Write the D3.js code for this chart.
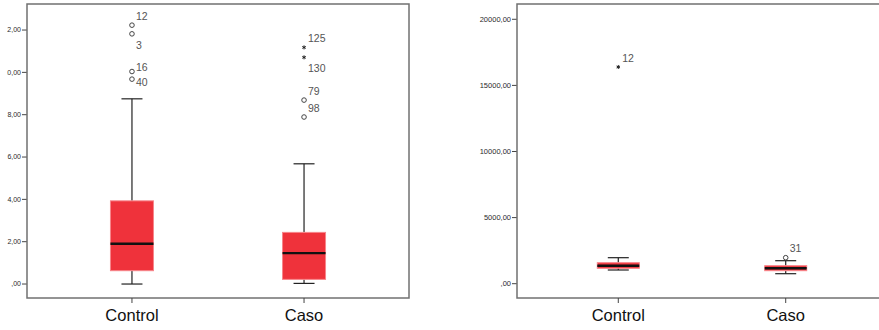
<!DOCTYPE html>
<html>
<head>
<meta charset="utf-8">
<script src="https://cdn.jsdelivr.net/npm/d3@7"></script>
<style>
  html, body { margin: 0; padding: 0; background: #fff; }
  svg { display: block; font-family: "Liberation Sans", Arial, sans-serif; }
</style>
</head>
<body>
<svg id="chart" width="879" height="330"></svg>
<script>
// Groups shown on both panels
const categories = ["Control", "Caso"];

// Left panel: five-number summaries per group
const leftMin    = [0.00, 0.03];
const leftQ1     = [0.63, 0.22];
const leftMedian = [1.90, 1.46];
const leftQ3     = [3.93, 2.44];
const leftMax    = [8.75, 5.68];
const leftTicks  = [0, 2, 4, 6, 8, 10, 12];

// Left panel: outlying cases (circle = outlier, star = extreme)
const leftOutCategory = ["Control", "Control", "Control", "Control", "Caso", "Caso", "Caso", "Caso"];
const leftOutValue    = [12.23, 11.82, 10.04, 9.68, 11.18, 10.71, 8.69, 7.89];
const leftOutLabel    = ["12", "3", "16", "40", "125", "130", "79", "98"];
const leftOutSymbol   = ["circle", "circle", "circle", "circle", "star", "star", "circle", "circle"];

// Right panel: five-number summaries per group
const rightMin    = [1036, 756];
const rightQ1     = [1165, 983];
const rightMedian = [1362, 1165];
const rightQ3     = [1589, 1362];
const rightMax    = [1967, 1740];
const rightTicks  = [0, 5000, 10000, 15000, 20000];

// Right panel: outlying cases
const rightOutCategory = ["Control", "Caso"];
const rightOutValue    = [16392, 1967];
const rightOutLabel    = ["12", "31"];
const rightOutSymbol   = ["star", "circle"];

const svg = d3.select("#chart");
const fmt = v => {
  const s = d3.format(".2f")(v).replace(".", ",");
  return s.startsWith("0,") ? s.slice(1) : s;
};

const BOX_FILL = "#ef323b";
const BOX_EDGE = "#f7858a";
const FRAME = "#707070";

function drawPanel(cfg) {
  const g = svg.append("g");
  const x = d3.scalePoint().domain(categories).range([cfg.left, cfg.right]).padding(cfg.pad);
  const y = d3.scaleLinear().domain(cfg.domain).range([cfg.bottom, cfg.top]);

  // clip for tick labels (labels running past the panel edge are cut)
  const clipId = "clip" + cfg.id;
  svg.append("clipPath").attr("id", clipId)
    .append("rect").attr("x", cfg.labelClip).attr("y", 0).attr("width", 879).attr("height", 330);

  // y axis ticks and labels
  const yAxis = g.append("g").attr("clip-path", `url(#${clipId})`);
  yAxis.selectAll("line.tick").data(cfg.ticks).join("line")
    .attr("x1", cfg.left - cfg.tickLen).attr("x2", cfg.left)
    .attr("y1", d => y(d)).attr("y2", d => y(d))
    .attr("stroke", "#444").attr("stroke-width", 1);
  yAxis.selectAll("text").data(cfg.ticks).join("text")
    .attr("x", cfg.left - cfg.tickLen - 1)
    .attr("y", d => y(d))
    .attr("dy", "0.35em")
    .attr("text-anchor", "end")
    .attr("font-size", cfg.tickFont)
    .attr("fill", "#2a2a2a")
    .text(fmt);

  // frame
  g.append("rect")
    .attr("x", cfg.left).attr("y", cfg.top)
    .attr("width", cfg.right - cfg.left).attr("height", cfg.bottom - cfg.top)
    .attr("fill", "none").attr("stroke", FRAME).attr("stroke-width", 1.5);

  // category ticks and labels
  g.selectAll("line.cat").data(categories).join("line")
    .attr("x1", d => x(d)).attr("x2", d => x(d))
    .attr("y1", cfg.bottom).attr("y2", cfg.bottom + 5)
    .attr("stroke", "#444").attr("stroke-width", 1);
  g.selectAll("text.cat").data(categories).join("text")
    .attr("x", d => x(d)).attr("y", cfg.bottom + 17)
    .attr("dy", "0.35em")
    .attr("text-anchor", "middle")
    .attr("font-size", 16.5)
    .attr("fill", "#111")
    .text(d => d);

  // boxes
  const stats = categories.map((c, i) => ({
    c, min: cfg.min[i], q1: cfg.q1[i], med: cfg.med[i], q3: cfg.q3[i], max: cfg.max[i]
  }));
  const bw = cfg.boxW, cw = 21;
  const box = g.selectAll("g.box").data(stats).join("g");
  box.append("line")
    .attr("x1", d => x(d.c)).attr("x2", d => x(d.c))
    .attr("y1", d => y(d.max)).attr("y2", d => y(d.q3))
    .attr("stroke", "#222").attr("stroke-width", 1.2);
  box.append("line")
    .attr("x1", d => x(d.c)).attr("x2", d => x(d.c))
    .attr("y1", d => y(d.q1)).attr("y2", d => y(d.min))
    .attr("stroke", "#222").attr("stroke-width", 1.2);
  ["max", "min"].forEach(k => {
    box.append("line")
      .attr("x1", d => x(d.c) - cw / 2).attr("x2", d => x(d.c) + cw / 2)
      .attr("y1", d => y(d[k])).attr("y2", d => y(d[k]))
      .attr("stroke", "#222").attr("stroke-width", 1.2);
  });
  box.append("rect")
    .attr("x", d => x(d.c) - bw / 2).attr("width", bw)
    .attr("y", d => y(d.q3)).attr("height", d => y(d.q1) - y(d.q3))
    .attr("fill", BOX_FILL).attr("stroke", BOX_EDGE).attr("stroke-width", 1);
  box.append("line")
    .attr("x1", d => x(d.c) - bw / 2).attr("x2", d => x(d.c) + bw / 2)
    .attr("y1", d => y(d.med)).attr("y2", d => y(d.med))
    .attr("stroke", "#111").attr("stroke-width", 2.4);

  // outliers: symbols and case labels
  const outs = cfg.outCat.map((c, i) => ({
    c, v: cfg.outVal[i], label: cfg.outLabel[i], sym: cfg.outSym[i]
  }));
  // labels sit above-right; when a case sits just below another one in the
  // same group, the pair's labels split above and below; touching pairs
  // keep their labels tight around the symbols
  outs.forEach(o => { o.dy = -9; });
  outs.forEach((o, i) => {
    const prev = outs.slice(0, i).find(p => p.c === o.c && !p.below &&
      Math.abs(y(p.v) - y(o.v)) < 12);
    if (prev) {
      o.below = true;
      const gap = Math.abs(y(prev.v) - y(o.v));
      if (gap < 8) { prev.dy = -4.5; o.dy = 3.5; }
      else { o.dy = 11; }
    }
  });
  const star = d3.symbol().type(d3.symbolAsterisk || d3.symbolCross).size(11);
  outs.forEach(o => {
    const cx = x(o.c), cy = y(o.v);
    if (o.sym === "circle") {
      g.append("circle").attr("cx", cx).attr("cy", cy).attr("r", 2.3)
        .attr("fill", "#fff").attr("stroke", "#444").attr("stroke-width", 1);
    } else {
      g.append("path").attr("d", star).attr("transform", `translate(${cx},${cy})`)
        .attr("fill", "none").attr("stroke", "#222").attr("stroke-width", 1);
    }
    g.append("text")
      .attr("x", cx + 4)
      .attr("y", cy + o.dy)
      .attr("dy", "0.35em")
      .attr("font-size", 10.5)
      .attr("fill", "#555")
      .text(o.label);
  });
}

drawPanel({
  id: "L", left: 27, right: 409, top: 4, bottom: 298, pad: 0.61,
  domain: [-0.66, 13.23], ticks: leftTicks, tickLen: 5, tickFont: 7, labelClip: 7,
  boxW: 43,
  min: leftMin, q1: leftQ1, med: leftMedian, q3: leftQ3, max: leftMax,
  outCat: leftOutCategory, outVal: leftOutValue, outLabel: leftOutLabel, outSym: leftOutSymbol
});

drawPanel({
  id: "R", left: 517, right: 887, top: 4, bottom: 298, pad: 0.605,
  domain: [-1082, 21157], ticks: rightTicks, tickLen: 5, tickFont: 7.5, labelClip: 0,
  boxW: 42,
  min: rightMin, q1: rightQ1, med: rightMedian, q3: rightQ3, max: rightMax,
  outCat: rightOutCategory, outVal: rightOutValue, outLabel: rightOutLabel, outSym: rightOutSymbol
});
</script>
</body>
</html>
